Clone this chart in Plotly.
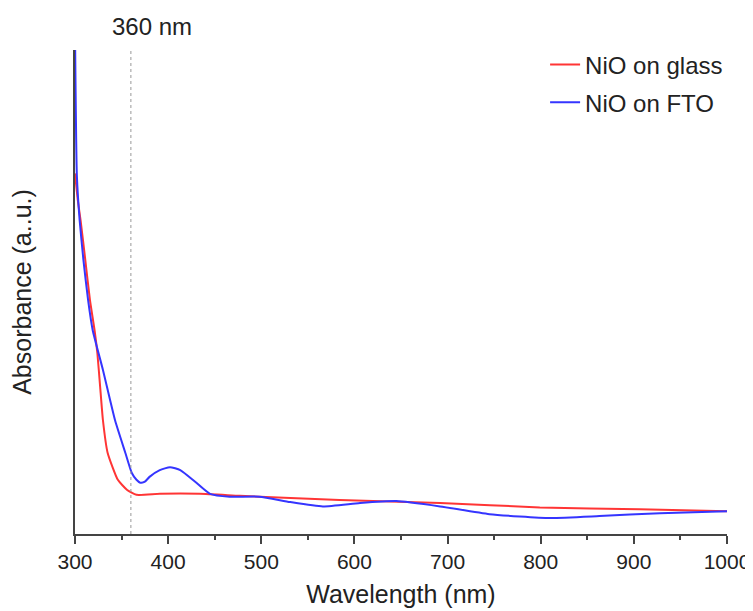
import plotly.graph_objects as go

# Data (absorbance in arbitrary units)
fto_wl = [300, 302, 305, 309, 314, 319, 330, 343, 354, 361, 366, 370, 375, 380, 391, 402, 413,
          429, 445, 466, 498, 531, 566, 606, 645, 692, 745, 810, 863, 928, 1000]
fto_abs = [1.041, 0.741, 0.648, 0.567, 0.484, 0.421, 0.339, 0.235, 0.168, 0.126, 0.112, 0.106,
           0.108, 0.118, 0.132, 0.138, 0.132, 0.108, 0.083, 0.077, 0.077, 0.066, 0.057, 0.064,
           0.068, 0.057, 0.041, 0.033, 0.037, 0.043, 0.047]

glass_wl = [300, 303, 306, 311, 316, 321, 324, 327, 330, 335, 346, 356, 366, 391, 434,
            477, 584, 692, 799, 906, 1000]
glass_abs = [0.745, 0.690, 0.648, 0.567, 0.484, 0.421, 0.374, 0.304, 0.235, 0.168, 0.112,
             0.091, 0.081, 0.083, 0.083, 0.079, 0.070, 0.064, 0.055, 0.051, 0.047]

marker_wl = 360
marker_label = "360 nm"
x_ticks = [300, 400, 500, 600, 700, 800, 900, 1000]

FONT = "Liberation Sans, Arial, sans-serif"
TXT = "#222222"
AX = "#444444"

fig = go.Figure()
fig.add_trace(go.Scatter(x=glass_wl, y=glass_abs, mode="lines", name="NiO on glass",
                         legend="legend",
                         line=dict(color="#ff3535", width=2, shape="spline", smoothing=0.5)))
fig.add_trace(go.Scatter(x=fto_wl, y=fto_abs, mode="lines", name="NiO on FTO",
                         legend="legend2",
                         line=dict(color="#3535ff", width=2, shape="spline", smoothing=0.5)))

fig.add_vline(x=marker_wl, line=dict(color="#999999", width=1, dash="dot"))
fig.add_annotation(x=marker_wl, y=1, xref="x", yref="paper", text=marker_label,
                   showarrow=False, xanchor="center", yanchor="middle", xshift=21, yshift=24,
                   font=dict(size=24, color=TXT, family=FONT))

leg_common = dict(xanchor="left", yanchor="middle", bgcolor="rgba(0,0,0,0)",
                  font=dict(size=24, color=TXT, family=FONT))

# the page body adds an 8px offset; the figure is sized so the plot lands where the reference has it
fig.update_layout(
    width=745, height=603,
    margin=dict(l=67, r=26, t=42, b=77, autoexpand=False),
    plot_bgcolor="white", paper_bgcolor="white",
    font=dict(family=FONT, color=TXT),
    showlegend=True,
    legend=dict(x=0.721, y=0.969, **leg_common),
    legend2=dict(x=0.721, y=0.891, **leg_common),
    xaxis=dict(range=[300, 1000], tickvals=x_ticks, ticks="outside", ticklen=8,
               tickwidth=1.5, tickcolor=AX, showline=True, linecolor=AX,
               linewidth=1.5, showgrid=False, zeroline=False, automargin=False,
               tickfont=dict(size=21, color=TXT),
               minor=dict(dtick=50, tick0=300, ticks="outside", ticklen=4,
                          tickwidth=1.5, tickcolor=AX, showgrid=False),
               title=dict(text="Wavelength (nm)", font=dict(size=25, color=TXT),
                          standoff=14)),
    yaxis=dict(range=[0, 1.0], showticklabels=False, ticks="", showline=True,
               linecolor=AX, linewidth=1.5, showgrid=False, zeroline=False,
               automargin=False,
               title=dict(text="Absorbance (a..u.)", font=dict(size=25, color=TXT),
                          standoff=36)),
)

fig.write_html("out.html")
